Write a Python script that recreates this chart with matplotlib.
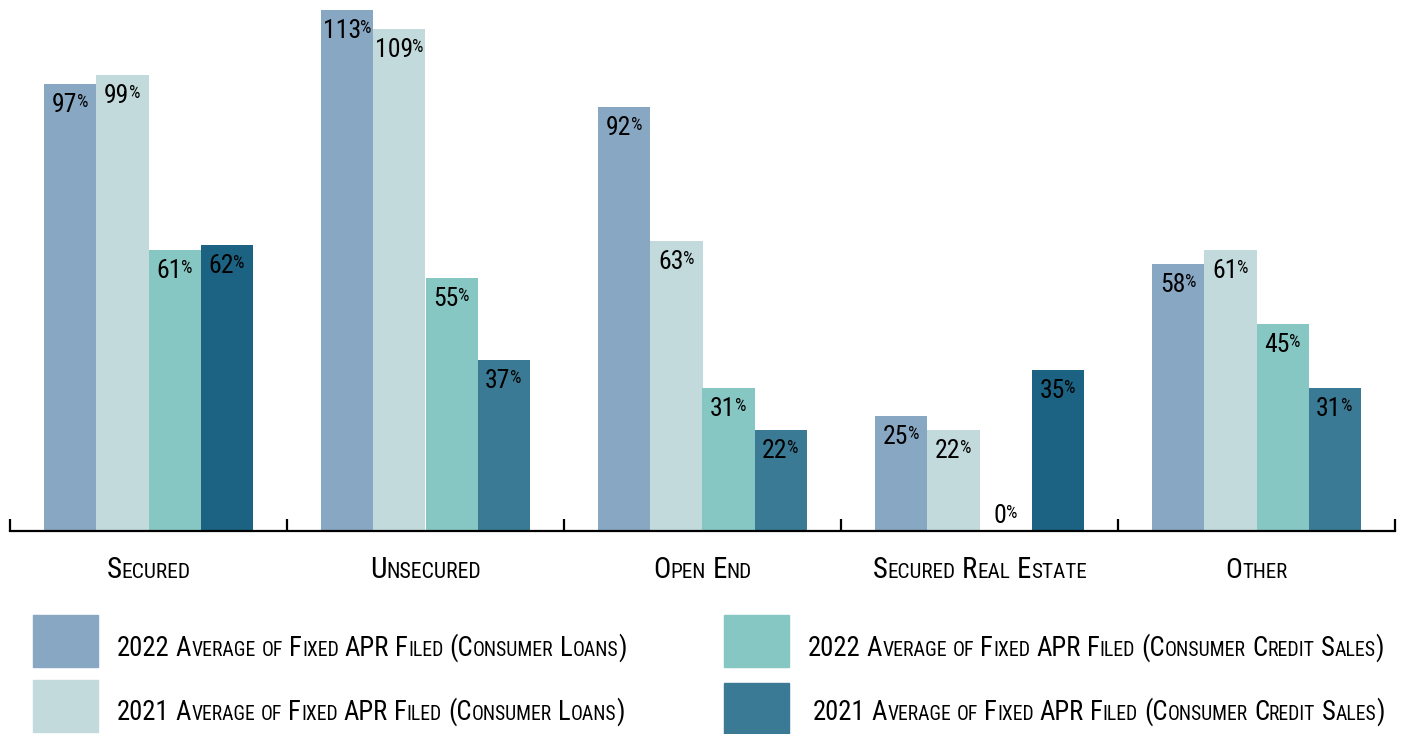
import numpy as np
import matplotlib
matplotlib.use('Agg')
import matplotlib.pyplot as plt
from matplotlib import font_manager
from matplotlib.transforms import IdentityTransform
from matplotlib.patches import Rectangle

categories = ['Secured', 'Unsecured', 'Open End', 'Secured Real Estate', 'Other']
loans_2022 = [97, 113, 92, 25, 58]
loans_2021 = [99, 109, 63, 22, 61]
sales_2022 = [61, 55, 31, 0, 45]
sales_2021 = [62, 37, 22, 35, 31]
series_names = ['2022 Average of Fixed APR Filed (Consumer Loans)',
                '2021 Average of Fixed APR Filed (Consumer Loans)',
                '2022 Average of Fixed APR Filed (Consumer Credit Sales)',
                '2021 Average of Fixed APR Filed (Consumer Credit Sales)']

colors = ['#88a7c3', '#c3dadc', '#86c6c3', '#3b7a94']
dark_colors = ['#1b6283', '#3b7a94', '#3b7a94', '#1b6283', '#3b7a94']


def pick_font():
    for name in ['Liberation Sans Narrow', 'DejaVu Sans Condensed', 'Roboto Condensed', 'Liberation Sans']:
        try:
            font_manager.findfont(name, fallback_to_default=False)
            return name
        except Exception:
            pass
    return 'DejaVu Sans'


FONT = pick_font()


def text_width(fig, s, size):
    r = fig.canvas.get_renderer()
    t = fig.text(0, 0, s, fontsize=size, family=FONT, transform=IdentityTransform())
    w = t.get_window_extent(r).width
    t.remove()
    return w


def split_runs(s):
    pieces = []
    for wi, word in enumerate(s.split(' ')):
        if wi > 0:
            pieces.append((None, None))
        run = ''
        small = None
        for ch in word:
            sm = ch.islower()
            if small is not None and sm != small:
                pieces.append((run, small))
                run = ''
            run += ch
            small = sm
        if run:
            pieces.append((run, small))
    return pieces


def sc_width(fig, pieces, size, ratio):
    space = text_width(fig, 'A A', size) - text_width(fig, 'AA', size)
    total = 0
    for txt, sm in pieces:
        if txt is None:
            total += space
        else:
            total += text_width(fig, txt.upper(), size * ratio if sm else size)
    return total


def small_caps(fig, x, y, s, size, ha='left', ratio=0.74, fit=None):
    # fake small caps: capitals big, lower case drawn as smaller capitals
    r = fig.canvas.get_renderer()
    pieces = split_runs(s)
    if fit is not None:
        size = size * fit / sc_width(fig, pieces, size, ratio)
    space = text_width(fig, 'A A', size) - text_width(fig, 'AA', size)
    items = []
    total = 0
    for txt, sm in pieces:
        if txt is None:
            items.append((None, space))
            total += space
            continue
        t = fig.text(0, 0, txt.upper(), fontsize=size * ratio if sm else size,
                     family=FONT, transform=IdentityTransform(), va='baseline')
        w = t.get_window_extent(r).width
        items.append((t, w))
        total += w
    start = x - total / 2 if ha == 'center' else x
    for t, w in items:
        if t is not None:
            t.set_position((start, y))
        start += w


fig = plt.figure(figsize=(14.06, 7.34), dpi=100)
H = 734
ax = fig.add_axes([10 / 1406, 203 / H, 1385 / 1406, 530 / H])

x = np.arange(len(categories))
width = 0.188
offsets = [-1.5, -0.5, 0.5, 1.5]
all_series = [loans_2022, loans_2021, sales_2022, sales_2021]
bar_colors = [colors[0], colors[1], colors[2], dark_colors]
for vals, off, c in zip(all_series, offsets, bar_colors):
    ax.bar(x + off * width, vals, width, color=c, linewidth=0)

ax.set_xlim(-0.5, 4.5)
ax.set_ylim(0, 115)
for sp in ['top', 'left', 'right']:
    ax.spines[sp].set_visible(False)
ax.spines['bottom'].set_linewidth(1.6)
ax.set_yticks([])
ax.set_xticks(np.arange(-0.5, 5, 1))
ax.set_xticklabels([])
ax.tick_params(axis='x', direction='in', length=9, width=1.6)

fig.canvas.draw()

# value labels: number plus a smaller raised percent sign
r = fig.canvas.get_renderer()
num_size = 18.5
pct_size = 13
for vals, off in zip(all_series, offsets):
    for xi, v in zip(x, vals):
        px, py = ax.transData.transform((xi + off * width, v))
        base = py - 28 if v > 0 else py + 8
        t1 = fig.text(0, base, str(v), fontsize=num_size, family=FONT,
                      transform=IdentityTransform(), va='baseline')
        t2 = fig.text(0, base + 5, '%', fontsize=pct_size, family=FONT,
                      transform=IdentityTransform(), va='baseline')
        w1 = t1.get_window_extent(r).width
        w2 = t2.get_window_extent(r).width
        left = px - (w1 + w2) / 2
        t1.set_x(left)
        t2.set_x(left + w1 - 0.5)

# category labels
label_w = [84, 111, 99, 214, 62]
for xi, name, lw in zip(x, categories, label_w):
    px, _ = ax.transData.transform((xi, 0))
    small_caps(fig, px, H - 578, name, 22, ha='center', fit=lw)

# legend
leg_boxes = [(33, 615), (33, 680), (724, 615), (724, 683)]
leg_text = [(117, 656), (117, 720), (808, 656), (813, 720)]
leg_w = [511, 508, 576, 571]
for (bx, by), (tx, ty), c, name, lw in zip(leg_boxes, leg_text, colors, series_names, leg_w):
    fig.patches.append(Rectangle((bx, H - by - 52), 65, 52, color=c,
                                 transform=IdentityTransform(), figure=fig))
    small_caps(fig, tx, H - ty, name, 22, fit=lw)

fig.savefig('out.png', dpi=100)
